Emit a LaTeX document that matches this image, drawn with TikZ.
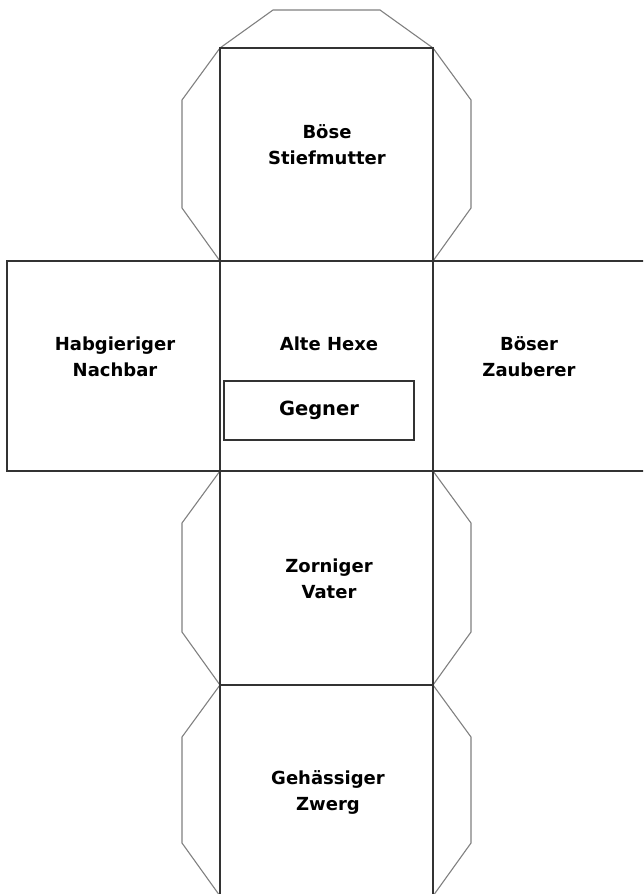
\documentclass[tikz,border=0pt]{standalone}
\usepackage{fontspec}
\setmainfont{DejaVu Sans}

\tikzset{
    face/.style={draw=black!80, line width=1.2pt},
    flap/.style={draw=black!50, line width=1.1pt},
    facetext/.style={font=\bfseries\fontsize{18}{26}\selectfont, align=center},
}

\begin{document}
\begin{tikzpicture}[x=1pt, y=-1pt]
    \useasboundingbox (0,0) rectangle (643,894);
    \clip (0,0) rectangle (643,894);

    % flaps
    \draw[flap] (220,48) -- (273,10) -- (380,10) -- (433,48);
    \foreach \top/\bot in {48/261, 471/685, 685/896} {
        \draw[flap] (220,\top) -- (182,\top+52) -- (182,\bot-53) -- (220,\bot);
        \draw[flap] (433,\top) -- (471,\top+52) -- (471,\bot-53) -- (433,\bot);
    }

    % faces of the cube
    \draw[face] (220,48) rectangle (433,261);
    \draw[face] (7,261) rectangle (220,471);
    \draw[face] (220,261) rectangle (433,471);
    \draw[face] (433,261) rectangle (660,471);
    \draw[face] (220,471) rectangle (433,685);
    \draw[face] (220,685) rectangle (433,910);

    % texts
    \node[facetext] (stiefmutter) at (327,145) {Böse\\Stiefmutter};
    \node[facetext] (nachbar) at (115,357) {Habgieriger\\Nachbar};
    \node[facetext] (hexe) at (329,344) {Alte Hexe};
    \node[facetext] (zauberer) at (529,357) {Böser\\Zauberer};
    \node[facetext] (vater) at (329,579) {Zorniger\\Vater};
    \node[facetext] (zwerg) at (328,792) {Gehässiger\\Zwerg};

    \node[face, minimum width=190pt, minimum height=59pt,
          font=\bfseries\fontsize{19.5}{24}\selectfont] (gegner) at (319,410.5) {Gegner};
\end{tikzpicture}
\end{document}
